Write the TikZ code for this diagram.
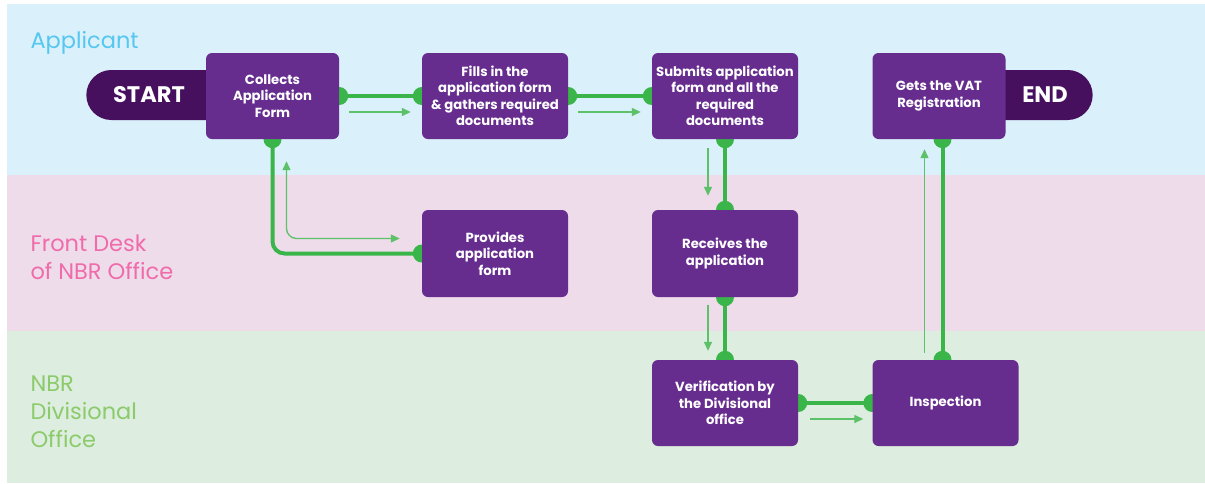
\documentclass[tikz,border=0pt]{standalone}
\usepackage{fontspec}
\setmainfont{Poppins}
\usetikzlibrary{shapes.misc, arrows.meta, positioning}

\definecolor{laneblue}{HTML}{DAF0FA}
\definecolor{lanepink}{HTML}{EEDCEB}
\definecolor{lanegreen}{HTML}{DDEDDF}
\definecolor{txtblue}{HTML}{55C7F0}
\definecolor{txtpink}{HTML}{F06BAA}
\definecolor{txtgreen}{HTML}{8CCB6C}
\definecolor{boxpurple}{HTML}{662D8F}
\definecolor{pilldark}{HTML}{46105E}
\definecolor{linkgreen}{HTML}{3AB54A}
\definecolor{hintgreen}{HTML}{5CC168}

\pgfdeclarelayer{lanes}
\pgfdeclarelayer{links}
\pgfsetlayers{lanes,links,main}

\tikzset{
    stepbox/.style={rectangle, rounded corners=6pt, fill=boxpurple, text=white,
        font=\bfseries\fontsize{13.2}{16.5}\selectfont, align=center,
        minimum width=146pt, minimum height=86pt, inner sep=0pt},
    pill/.style={rounded rectangle, fill=pilldark, text=white,
        font=\bfseries\fontsize{22.5}{24}\selectfont, minimum height=50pt, inner sep=0pt},
    lanelabel/.style={anchor=west, align=left, font=\fontsize{22.5}{28}\selectfont},
    link/.style={line width=4pt, linkgreen},
    hint/.style={line width=1.3pt, hintgreen, -{Triangle[length=9pt, width=8pt]}},
    dot/.style={fill=linkgreen}
}

\begin{document}
\begin{tikzpicture}[x=1pt, y=-1pt]
    \useasboundingbox (0,0) rectangle (1205,483);

    % Swimlanes
    \begin{pgfonlayer}{lanes}
        \fill[laneblue] (7,4) rectangle (1205,175);
        \fill[lanepink] (7,175) rectangle (1205,331);
        \fill[lanegreen] (7,331) rectangle (1205,483);
    \end{pgfonlayer}
    \node[lanelabel, text=txtblue] (applicant) at (27,42.5) {Applicant};
    \node[lanelabel, text=txtpink] (frontdesk) at (27,257) {Front Desk\\of NBR Office};
    \node[lanelabel, text=txtgreen] (division) at (27,412) {NBR\\Divisional\\Office};

    % Steps
    \node[stepbox, minimum width=133pt] (collect) at (272.5,96) {Collects\\Application\\Form};
    \node[stepbox] (fill) at (495,96) {Fills in the\\application form\\\& gathers required\\documents};
    \node[stepbox] (submit) at (725,96) {Submits application\\form and all the\\required\\documents};
    \node[stepbox, minimum width=133pt] (gets) at (939,96) {Gets the VAT\\Registration};
    \node[stepbox, minimum height=87pt] (provide) at (495,253.5) {Provides\\application\\form};
    \node[stepbox, minimum height=87pt] (receive) at (725,253.5) {Receives the\\application};
    \node[stepbox] (verify) at (725,403) {Verification by\\the Divisional\\office};
    \node[stepbox] (inspect) at (945.5,403) {Inspection};

    % Start and end
    \begin{pgfonlayer}{links}
        \node[pill, rounded rectangle right arc=none, minimum width=124pt] (start) at (149,95) {START};
        \node[pill, rounded rectangle left arc=none, minimum width=94pt] (end) at (1045,95) {END};
    \end{pgfonlayer}

    \coordinate (upfoot) at ([xshift=-3pt]inspect.north);
    \coordinate (uphead) at (upfoot |- gets.south);
    \coordinate (hintlow) at ([shift={(-21,-7)}]inspect.north);
    \coordinate (hinttop) at ([shift={(0,10)}]hintlow |- gets.south);

    % Connectors
    \begin{pgfonlayer}{links}
        \draw[link] (collect.east) -- (fill.west);
        \draw[link] (fill.east) -- (submit.west);
        \draw[link] (submit.south) -- (receive.north);
        \draw[link] (receive.south) -- (verify.north);
        \draw[link] (verify.east) -- (inspect.west);
        \draw[link] (upfoot) -- (uphead);
        \draw[link, rounded corners=12pt] (collect.south) |- (provide.west);

        \foreach \p in {collect.east, fill.west, fill.east, submit.west, submit.south,
            receive.north, receive.south, verify.north, verify.east, inspect.west,
            collect.south, provide.west, upfoot, uphead}
            \fill[dot] (\p) circle (9pt);

        % Flow hints
        \draw[hint] ([shift={(10,16)}]collect.east) -- ([shift={(-11,16)}]fill.west);
        \draw[hint] ([shift={(10,16)}]fill.east) -- ([shift={(-11,16)}]submit.west);
        \draw[hint] ([shift={(-17,9)}]submit.south) -- ([shift={(-17,-14)}]receive.north);
        \draw[hint] ([shift={(-17,8)}]receive.south) -- ([shift={(-17,-9)}]verify.north);
        \draw[hint] ([shift={(12,16)}]verify.east) -- ([shift={(-9,16)}]inspect.west);
        \draw[hint] (hintlow) -- (hinttop);
        \draw[hint, {Triangle[length=9pt, width=8pt]}-{Triangle[length=9pt, width=8pt]}, rounded corners=10pt]
            ([shift={(14,22)}]collect.south) |- ([shift={(-22,-15)}]provide.west);
    \end{pgfonlayer}
\end{tikzpicture}
\end{document}
